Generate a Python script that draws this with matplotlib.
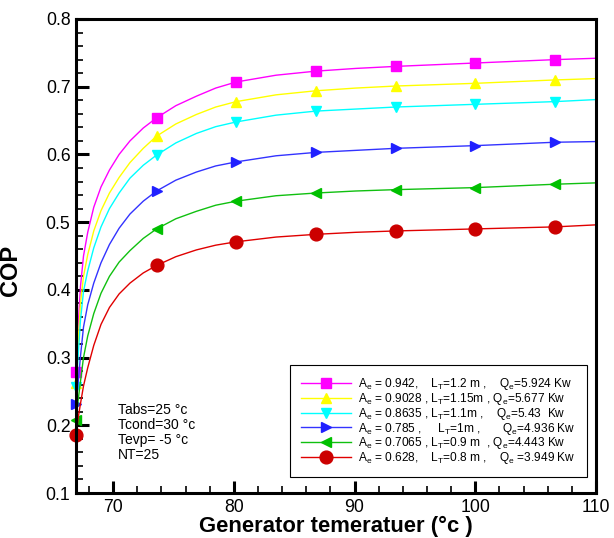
import matplotlib
matplotlib.use("Agg")
import matplotlib.pyplot as plt
from matplotlib.ticker import MultipleLocator, FormatStrFormatter

plt.rcParams['font.family'] = ['Liberation Sans', 'DejaVu Sans']
plt.rcParams['mathtext.fontset'] = 'custom'
plt.rcParams['mathtext.rm'] = 'Liberation Sans'
plt.rcParams['mathtext.it'] = 'Liberation Sans'

# generator temperature (deg C)
gen_temp = [66.93, 67.1, 67.3, 67.55, 67.9, 68.4, 69.0, 69.7, 70.5, 71.4, 72.5, 73.6,
            75.2, 76.9, 78.5, 80.2, 83.5, 86.8, 90.1, 93.4, 100, 106.6, 110]
# temperatures where the markers sit
marker_temps = [66.93, 73.6, 80.2, 86.8, 93.4, 100, 106.6]

# COP for each exchanger size
cop_942 = [0.278, 0.345, 0.405, 0.450, 0.485, 0.522, 0.552, 0.577, 0.600, 0.620, 0.639, 0.654,
           0.672, 0.686, 0.698, 0.707, 0.717, 0.723, 0.727, 0.730, 0.735, 0.740, 0.742]
cop_9028 = [0.263, 0.320, 0.380, 0.420, 0.452, 0.487, 0.517, 0.543, 0.566, 0.588, 0.609, 0.627,
            0.645, 0.659, 0.670, 0.678, 0.688, 0.694, 0.698, 0.701, 0.705, 0.710, 0.712]
cop_8635 = [0.256, 0.300, 0.355, 0.398, 0.428, 0.462, 0.493, 0.520, 0.543, 0.565, 0.584, 0.599,
            0.617, 0.631, 0.641, 0.648, 0.658, 0.664, 0.667, 0.670, 0.674, 0.678, 0.681]
cop_785 = [0.231, 0.262, 0.302, 0.345, 0.378, 0.410, 0.440, 0.467, 0.491, 0.512, 0.531, 0.546,
           0.562, 0.574, 0.583, 0.589, 0.598, 0.603, 0.606, 0.609, 0.613, 0.618, 0.619]
cop_7065 = [0.208, 0.236, 0.265, 0.300, 0.332, 0.365, 0.395, 0.420, 0.441, 0.458, 0.476, 0.490,
            0.505, 0.516, 0.525, 0.531, 0.539, 0.543, 0.546, 0.548, 0.551, 0.556, 0.558]
cop_628 = [0.185, 0.210, 0.232, 0.258, 0.285, 0.318, 0.349, 0.374, 0.394, 0.410, 0.425, 0.436,
           0.449, 0.459, 0.466, 0.471, 0.478, 0.482, 0.485, 0.487, 0.490, 0.493, 0.496]

labels = [
    r'A$_\mathrm{e}$ = 0.942,    L$_\mathrm{T}$=1.2 m ,    Q$_\mathrm{e}$=5.924 Kw',
    r'A$_\mathrm{e}$ = 0.9028 , L$_\mathrm{T}$=1.15m , Q$_\mathrm{e}$=5.677 Kw',
    r'A$_\mathrm{e}$ = 0.8635 , L$_\mathrm{T}$=1.1m ,    Q$_\mathrm{e}$=5.43  Kw',
    r'A$_\mathrm{e}$ = 0.785 ,     L$_\mathrm{T}$=1m ,       Q$_\mathrm{e}$=4.936 Kw',
    r'A$_\mathrm{e}$ = 0.7065 , L$_\mathrm{T}$=0.9 m  , Q$_\mathrm{e}$=4.443 Kw',
    r'A$_\mathrm{e}$ = 0.628,    L$_\mathrm{T}$=0.8 m ,    Q$_\mathrm{e}$ =3.949 Kw',
]

series = [
    (cop_942, '#ff00ff', '#ff00ff', 's', 7.2),
    (cop_9028, '#ffff00', '#ffff00', '^', 7.8),
    (cop_8635, '#00ffff', '#00ffff', 'v', 7.8),
    (cop_785, '#3333ff', '#2020ff', '>', 7.8),
    (cop_7065, '#10c010', '#00c000', '<', 7.8),
    (cop_628, '#e00000', '#cc0000', 'o', 9.2),
]

fig = plt.figure(figsize=(6.14, 5.38), dpi=100)
ax = fig.add_axes([0.1238, 0.0836, 0.8469, 0.8811])

idx = [gen_temp.index(t) for t in marker_temps]
for (ys, lc, mc, mk, ms), lab in zip(series, labels):
    ax.plot(gen_temp, ys, color=lc, lw=1.0, marker=mk, markevery=idx, ms=ms,
            markerfacecolor=mc, markeredgecolor=mc, label=lab, clip_on=False)

ax.set_xlim(66.93, 110)
ax.set_ylim(0.1, 0.8)
ax.xaxis.set_major_locator(MultipleLocator(10))
ax.xaxis.set_minor_locator(MultipleLocator(2))
ax.yaxis.set_major_locator(MultipleLocator(0.1))
ax.yaxis.set_minor_locator(MultipleLocator(0.02))
ax.yaxis.set_major_formatter(FormatStrFormatter('%.1f'))

ax.tick_params(which='both', direction='in', top=False, right=False)
ax.tick_params(which='major', length=9, width=2.2, labelsize=12.7, pad=4)
ax.tick_params(which='minor', length=5, width=1.2)
for s in ax.spines.values():
    s.set_linewidth(2.2)

ax.set_xlabel('Generator temeratuer (°c )', fontsize=15.8, fontweight='bold', labelpad=0)
ax.set_ylabel('COP', fontsize=17, fontweight='bold')
ax.yaxis.set_label_coords(-0.104, 0.47)

ax.text(0.081, 0.19, 'Tabs=25 °c\nTcond=30 °c\nTevp= -5 °c\nNT=25',
        transform=ax.transAxes, fontsize=10, va='top', ha='left', linespacing=1.1)

leg = ax.legend(loc='lower right', bbox_to_anchor=(0.982, 0.034), borderaxespad=0,
                fontsize=8.6, handlelength=4.2, labelspacing=-0.1, fancybox=False,
                framealpha=1, edgecolor='black', borderpad=0.9, handletextpad=0.65)
leg.get_frame().set_linewidth(0.8)

fig.savefig('out.png', dpi=100)
